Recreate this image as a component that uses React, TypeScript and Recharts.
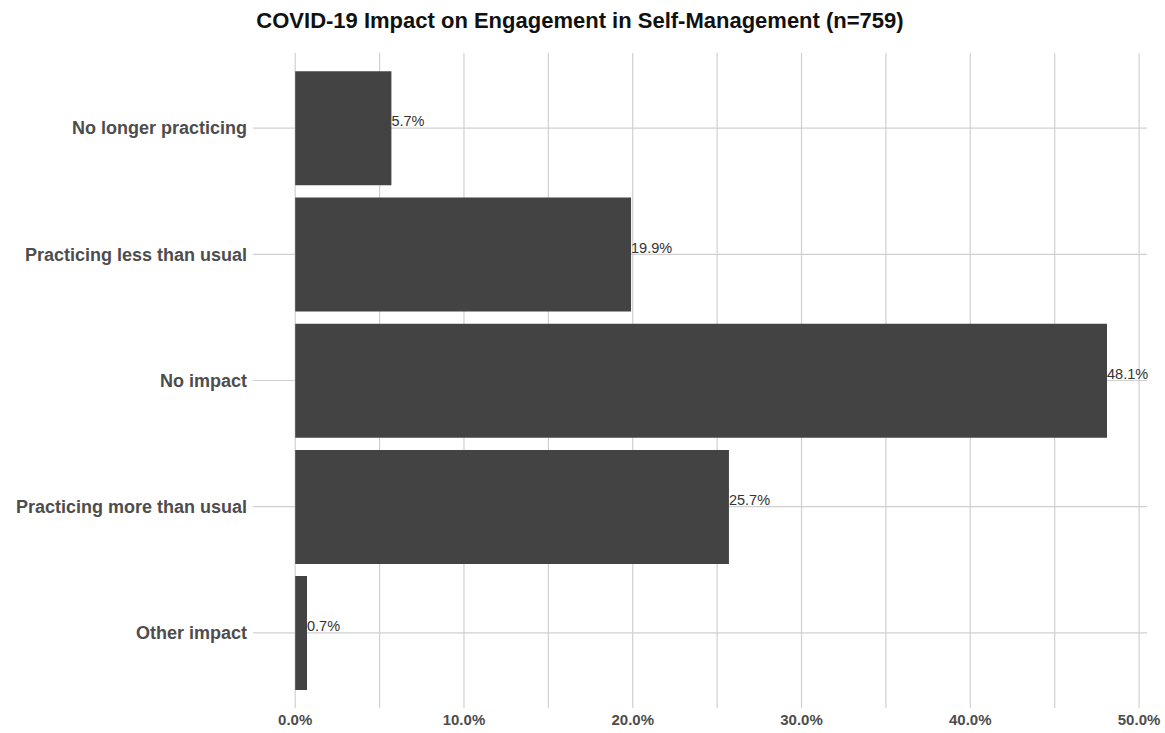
import { BarChart, Bar, XAxis, YAxis, CartesianGrid, LabelList } from 'recharts';

const categories = [
  'No longer practicing',
  'Practicing less than usual',
  'No impact',
  'Practicing more than usual',
  'Other impact',
];
const percents = [5.7, 19.9, 48.1, 25.7, 0.7];
const xTicks = [0, 5, 10, 15, 20, 25, 30, 35, 40, 45, 50];

const data = categories.map((name, i) => ({ name, value: percents[i] }));

const FONT = '"Liberation Sans", Arial, sans-serif';

const BarValueLabel = (props: any) => {
  const { x, y, width, height, value } = props;
  return (
    <text x={x + width} y={y + height / 2 - 7} dominantBaseline="central" fontSize={14.5} fill="#333" fontFamily={FONT}>
      {value.toFixed(1)}%
    </text>
  );
};

export default function App() {
  return (
    <div style={{ position: 'absolute', left: 0, top: 0, width: 1165, height: 733, background: '#fff' }}>
      <div
        style={{
          position: 'absolute',
          left: 0,
          top: 8,
          width: 1160,
          textAlign: 'center',
          fontFamily: FONT,
          fontWeight: 'bold',
          fontSize: 22,
          color: '#111',
        }}
      >
        COVID-19 Impact on Engagement in Self-Management (n=759)
      </div>
      <BarChart
        width={1165}
        height={733}
        data={data}
        layout="vertical"
        margin={{ top: 53, right: 18, bottom: 0, left: 0 }}
        barCategoryGap="5%"
      >
        <CartesianGrid stroke="#d0d0d0" strokeWidth={1.2} syncWithTicks />
        <XAxis
          type="number"
          domain={[-2.5, 50.47]}
          ticks={xTicks}
          allowDataOverflow
          tickFormatter={(v: number) => (v % 10 === 0 ? `${v.toFixed(1)}%` : '')}
          axisLine={false}
          tickLine={false}
          tickSize={0}
          tickMargin={6}
          height={25}
          tick={{ fontSize: 15, fontWeight: 'bold', fill: '#4d4d4d', fontFamily: FONT }}
        />
        <YAxis
          type="category"
          dataKey="name"
          width={253}
          axisLine={false}
          tickLine={false}
          tickSize={0}
          tickMargin={6}
          padding={{ top: 12, bottom: 12 }}
          tick={{ fontSize: 18, fontWeight: 'bold', fill: '#4d4d4d', fontFamily: FONT }}
        />
        <Bar dataKey="value" fill="#434343" isAnimationActive={false}>
          <LabelList dataKey="value" content={<BarValueLabel />} />
        </Bar>
      </BarChart>
    </div>
  );
}
